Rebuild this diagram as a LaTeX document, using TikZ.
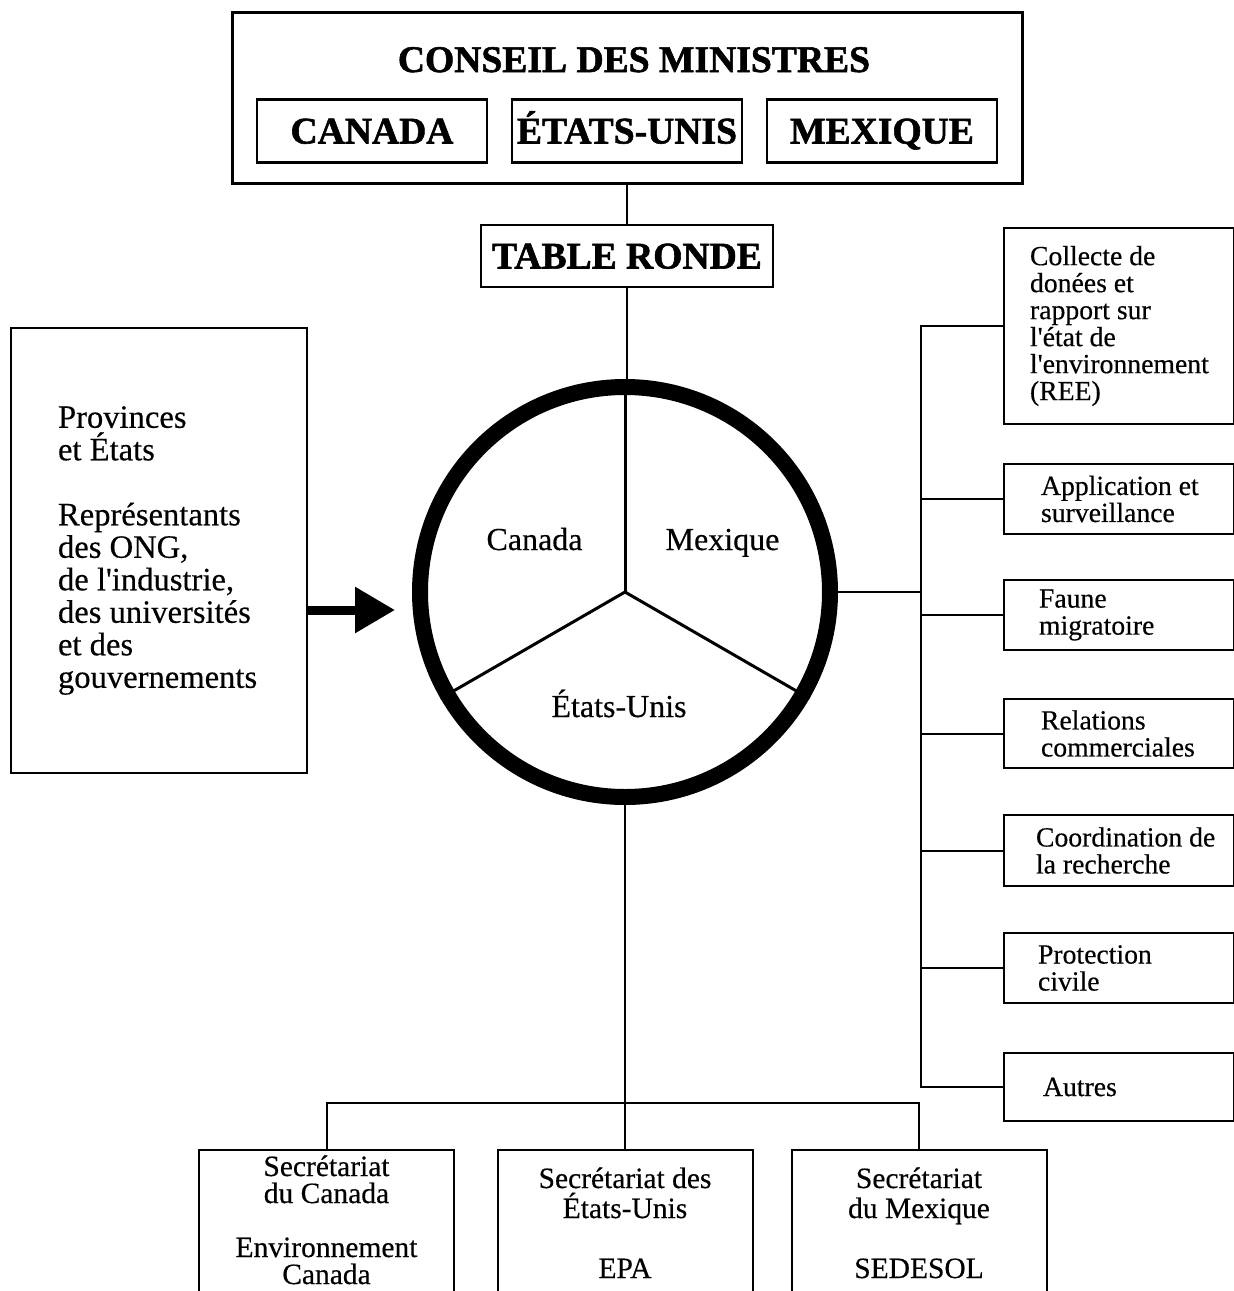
\documentclass[tikz,border=0pt]{standalone}
\usepackage{fontspec}
\setmainfont{Liberation Serif}[Ligatures=TeXOff, UprightFeatures={FakeBold=0.4}, BoldFeatures={FakeBold=1.5}]
\usetikzlibrary{arrows.meta,positioning}

\tikzset{
	cadre/.style={draw, line width=2pt, inner sep=0pt},
	lien/.style={line width=2pt},
	rayon/.style={line width=3pt},
	fleche/.style={line width=9pt, -{Triangle[length=40pt, width=44pt]}},
	titre/.style={anchor=base, font=\bfseries\fontsize{37.6}{40}\selectfont},
	pays/.style={cadre, line width=2.5pt, minimum width=230pt, minimum height=63pt, text height=25pt, text depth=0pt, font=\bfseries\fontsize{37.6}{40}\selectfont},
	theme/.style={cadre, anchor=north west, text width=230pt, minimum height=70pt, align=left, font=\fontsize{27.7}{27}\selectfont, execute at begin node={\leftskip=#1pt\spaceskip=\fontdimen2\font\relax}},
	secr/.style={cadre, anchor=north, text width=255pt, align=center, text height=#1pt, text depth=160pt, font=\fontsize{29.5}{27}\selectfont, execute at begin node={\spaceskip=\fontdimen2\font\relax}},
	secteur/.style={anchor=base, font=\fontsize{32}{34}\selectfont},
}

\begin{document}
\begin{tikzpicture}[x=1pt, y=-1pt]
			%%%%% START %%%%%
			\useasboundingbox (0,0) rectangle (1234,1291);
			\clip (0,0) rectangle (1234,1291);
			
			% conseil des ministres
			\node[cadre, line width=2.5pt, anchor=north west, minimum width=790pt, minimum height=171pt] (conseil) at (231,11) {};
			\node[titre] (titre) at (634,72) {CONSEIL DES MINISTRES};
			\node[pays] (canada) at (372,131) {CANADA};
			\node[pays] (etats) at (627,131) {ÉTATS-UNIS};
			\node[pays] (mexique) at (882,131) {MEXIQUE};
			
			\node[pays, minimum width=292pt, minimum height=62pt] (table) at (627,256) {TABLE RONDE};
			\draw[lien] (table.north |- conseil.south) -- (table.north);
			
			% table ronde
			\node[circle, draw, line width=16pt, minimum size=410pt, inner sep=0pt] (ring) at (625,592) {};
			\draw[lien] (table.south) -- (table.south |- ring.north);
			\draw[rayon] (ring.center) -- (ring.90);
			\draw[rayon] (ring.center) -- (ring.210);
			\draw[rayon] (ring.center) -- (ring.330);
			
			\node[secteur] (lcan) at (534.5,550) {Canada};
			\node[secteur] (lmex) at (722.5,550) {Mexique};
			\node[secteur] (leu) at (619,717) {États-Unis};
			
			% provinces et representants
			\node[theme=47, text width=296pt, minimum height=445pt, font=\fontsize{32.6}{32.5}\selectfont] (prov) at (10,327) {Provinces\\et États\\[32.5pt]Représentants\\des ONG,\\de l'industrie,\\des universités\\et des\\gouvernements};
			\coordinate (pointe) at (395,610);
			\draw[fleche] (prov.east |- pointe) -- (pointe);
			
			% groupes de travail
			\node[theme=26, minimum height=196pt] (collecte) at (1003,227) {Collecte de\\donées et\\rapport sur\\l'état de\\l'environnement\\(REE)};
			\node[theme=37] (appl) at (1003,463) {Application et\\surveillance};
			\node[theme=35] (faune) at (1003,579) {Faune\\migratoire};
			\node[theme=37, minimum height=69pt] (relat) at (1003,698) {Relations\\commerciales};
			\node[theme=32, minimum height=71pt] (coord) at (1003,814) {Coordination de\\la recherche};
			\node[theme=34] (protec) at (1003,932) {Protection\\civile};
			\node[theme=39, minimum height=68pt] (autres) at (1003,1052) {Autres};
			
			\draw[lien] (collecte.west) -- ++(-82,0) |- (autres.west);
			\foreach \g in {appl,faune,relat,coord,protec}
				\draw[lien] (\g.west) -- ++(-82,0);
			\draw[lien] (ring.east) -- ([xshift=-82pt]collecte.west |- ring.east);
			
			% secretariats
			\node[secr=26] (secC) at (326.5,1149) {Secrétariat\\du Canada\\[27pt]Environnement\\Canada};
			\node[secr=38] (secE) at (625,1149) {Secrétariat des\\[3pt]États-Unis\\[33pt]EPA};
			\node[secr=38] (secM) at (919,1149) {Secrétariat\\[3pt]du Mexique\\[33pt]SEDESOL};
			
			\draw[lien] (ring.south) -- (secE.north);
			\draw[lien] (secC.north) -- ++(0,-46) -| (secM.north);
			
			%%%%% END %%%%%
\end{tikzpicture}
\end{document}
